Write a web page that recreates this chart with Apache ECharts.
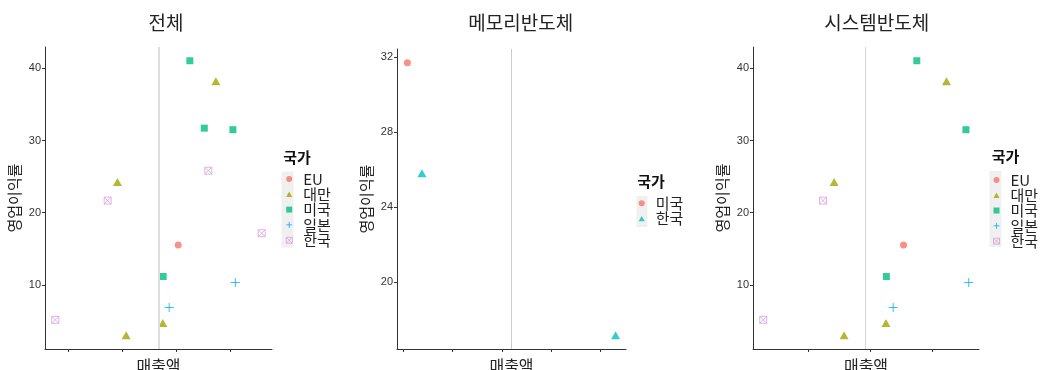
<!DOCTYPE html>
<html>
<head>
<meta charset="utf-8">
<script src="https://cdn.jsdelivr.net/npm/echarts@6/dist/echarts.min.js"></script>
<style>
html, body { margin: 0; padding: 0; background: #fff; }
#chart { width: 1043px; height: 370px; }
</style>
</head>
<body>
<div id="chart"></div>
<script>
// 패널 / 범례 항목
const panelTitles = ['전체', '메모리반도체', '시스템반도체']
const countries = ['EU', '대만', '미국', '일본', '한국']
const memCountries = ['미국', '한국']

// 시스템반도체 [매출액, 영업이익률]
const sysEU = [[30.37, 15.5]]
const sysTaiwan = [[37.33, 38.2], [19.13, 24.25], [20.74, 3.0], [27.52, 4.7]]
const sysUS = [[32.52, 41.06], [40.48, 31.5], [27.59, 11.15]]
const sysJapan = [[28.70, 6.85], [40.93, 10.32]]
const sysKorea = [[7.65, 5.14], [17.33, 21.67]]

// 메모리반도체 [매출액, 영업이익률]
const memUS = [[35.19, 31.71]]
const memKorea = [[35.93, 25.81], [45.80, 17.15]]

// 세로 기준선 (매출액)
const refLines = [26.7, 40.46, 24.2]

// 눈금
const xTicks = [[10, 20, 30, 40], [35, 37.5, 40, 42.5, 45], [15, 25, 35]]
const yTicks = [[10, 20, 30, 40], [20, 24, 28, 32], [10, 20, 30, 40]]

const panelData = [
  { 'EU': sysEU, '대만': sysTaiwan, '미국': sysUS.concat(memUS), '일본': sysJapan, '한국': sysKorea.concat(memKorea) },
  { '미국': memUS, '한국': memKorea },
  { 'EU': sysEU, '대만': sysTaiwan, '미국': sysUS, '일본': sysJapan, '한국': sysKorea }
]
const panelCountries = [countries, memCountries, countries]

const plusPath = 'path://M5,0V10M0,5H10'
const boxXPath = 'path://M0,0H10V10H0ZM0,0L10,10M10,0L0,10'
// 범례 아이콘
const circlePath = 'path://M5,0A5,5,0,1,1,5,10A5,5,0,1,1,5,0Z'
const triPath = 'path://M5,0L10,9L0,9Z'
const rectPath = 'path://M0,0H10V10H0Z'

// ggplot 기본 색/모양
const style5 = {
  'EU': { symbol: 'circle', icon: circlePath, size: 7, itemStyle: { color: '#F8766D' } },
  '대만': { symbol: 'triangle', icon: triPath, size: [9, 8], itemStyle: { color: '#A3A500' } },
  '미국': { symbol: 'rect', icon: rectPath, size: 7, itemStyle: { color: '#00BF7D' } },
  '일본': { symbol: plusPath, icon: plusPath, size: 9, itemStyle: { color: 'rgba(0,0,0,0)', borderColor: '#00B0F6', borderWidth: 1 } },
  '한국': { symbol: boxXPath, icon: boxXPath, size: 7, itemStyle: { color: 'rgba(0,0,0,0)', borderColor: '#D9A0DC', borderWidth: 1 } }
}
const style2 = {
  '미국': { symbol: 'circle', icon: circlePath, size: 7, itemStyle: { color: '#F8766D' } },
  '한국': { symbol: 'triangle', icon: triPath, size: [9, 8], itemStyle: { color: '#00BFC4' } }
}
const panelStyles = [style5, style2, style5]

const grids = [
  { left: 45, top: 47, width: 227, height: 302, outerBoundsMode: 'none' },
  { left: 397, top: 49, width: 229, height: 300, outerBoundsMode: 'none' },
  { left: 753, top: 47, width: 226, height: 302, outerBoundsMode: 'none' }
]
const titleX = [166, 520.7, 876.7]
const legendPos = [
  { left: 285.7, top: 171.5, headX: 283.3, headY: 157, bg: [281.5, 171.5, 12, 76] },
  { left: 638.7, top: 195.8, headX: 637.3, headY: 181.7, bg: [636.5, 196, 11, 31] },
  { left: 993, top: 172.4, headX: 991.7, headY: 156.7, bg: [989.5, 171, 12, 76] }
]
const refStyles = [
  { color: '#dedede', width: 2 },
  { color: '#cccccc', width: 1 },
  { color: '#d4d4d4', width: 1 }
]

const KR = 'Noto Sans CJK KR'

function expand (vals) {
  let lo = Math.min(...vals)
  let hi = Math.max(...vals)
  let pad = (hi - lo) * 0.05
  return [lo - pad, hi + pad]
}

let chart = echarts.init(document.getElementById('chart'))
let xAxes = []
let yAxes = []
let series = []
let legends = []
let graphics = []

for (let p = 0; p < 3; p++) {
  let pts = []
  panelCountries[p].forEach(c => { pts = pts.concat(panelData[p][c]) })
  let xr = expand(pts.map(d => d[0]))
  let yr = expand(pts.map(d => d[1]))

  xAxes.push({
    type: 'value', gridIndex: p, min: xr[0], max: xr[1],
    name: '매출액', nameLocation: 'middle', nameGap: 9,
    nameTextStyle: { fontFamily: KR, fontSize: 16, color: '#222' },
    axisLine: { show: true, lineStyle: { color: '#333', width: 1 } },
    axisTick: { show: true, length: 3, customValues: xTicks[p], lineStyle: { color: '#333' } },
    axisLabel: { show: false },
    splitLine: { show: false }
  })
  yAxes.push({
    type: 'value', gridIndex: p, min: yr[0], max: yr[1],
    name: '영업이익률', nameLocation: 'middle', nameGap: 23, nameRotate: 90,
    nameTextStyle: { fontFamily: KR, fontSize: 15, color: '#222' },
    axisLine: { show: true, lineStyle: { color: '#333', width: 1 } },
    axisTick: { show: true, length: 3, customValues: yTicks[p], lineStyle: { color: '#333' } },
    axisLabel: { customValues: yTicks[p], margin: 4, fontFamily: 'Liberation Sans', fontSize: 11, color: '#333' },
    splitLine: { show: false }
  })

  series.push({
    type: 'scatter', name: 'ref#' + p, data: [], xAxisIndex: p, yAxisIndex: p,
    markLine: {
      silent: true, symbol: ['none', 'none'], label: { show: false },
      lineStyle: { type: 'solid', color: refStyles[p].color, width: refStyles[p].width },
      data: [{ xAxis: refLines[p] }]
    }
  })

  panelCountries[p].forEach(c => {
    let st = panelStyles[p][c]
    series.push({
      type: 'scatter', name: c + '#' + p, xAxisIndex: p, yAxisIndex: p,
      data: panelData[p][c], symbol: st.symbol, symbolSize: st.size,
      itemStyle: st.itemStyle, z: 3
    })
  })

  let lp = legendPos[p]
  legends.push({
    data: panelCountries[p].map(c => ({
      name: c + '#' + p,
      icon: panelStyles[p][c].icon,
      itemStyle: Object.assign({ borderWidth: 0 }, panelStyles[p][c].itemStyle)
    })),
    formatter: n => n.split('#')[0],
    orient: 'vertical', left: lp.left, top: lp.top,
    itemWidth: 6, itemHeight: 6, itemGap: 0.3, padding: 0,
    symbolKeepAspect: true,
    selectedMode: false,
    textStyle: { fontFamily: KR, fontSize: 15, lineHeight: 15, color: '#222', padding: [0, 0, 0, 6] }
  })

  graphics.push({
    type: 'rect', z: 0,
    shape: { x: lp.bg[0], y: lp.bg[1], width: lp.bg[2], height: lp.bg[3] },
    style: { fill: '#f0f0f0' }
  })
  graphics.push({
    type: 'text', x: lp.headX, y: lp.headY,
    style: { text: '국가', font: 'bold 15px "Noto Sans CJK KR"', fill: '#111', align: 'left', verticalAlign: 'middle' }
  })
  graphics.push({
    type: 'text', x: titleX[p], y: 22.5,
    style: { text: panelTitles[p], font: '19px "Noto Sans CJK KR"', fill: '#222', align: 'center', verticalAlign: 'middle' }
  })
}

let option = {
  animation: false,
  backgroundColor: '#fff',
  grid: grids,
  xAxis: xAxes,
  yAxis: yAxes,
  legend: legends,
  graphic: graphics,
  series: series
}
chart.setOption(option)
</script>
</body>
</html>
